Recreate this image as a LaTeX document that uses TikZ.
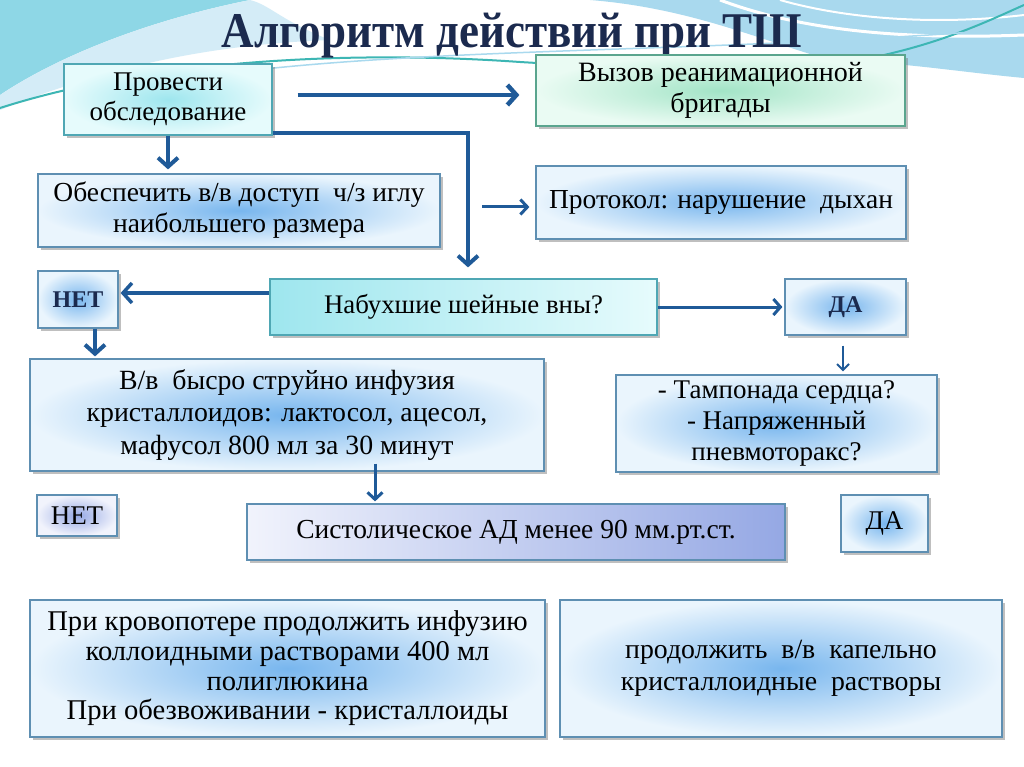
\documentclass[tikz,border=0pt]{standalone}
\usepackage{fontspec}
\setmainfont{Liberation Serif}
\usepackage{graphicx}
\usetikzlibrary{arrows.meta,shadows}
\definecolor{arrowblue}{HTML}{1F5A98}
\definecolor{titlecol}{HTML}{1B2A4E}
\definecolor{bluein}{HTML}{78B6EE}
\definecolor{blueout}{HTML}{EAF5FD}
\definecolor{blueline}{HTML}{5E8FB2}
\definecolor{aquain}{HTML}{9EE6EE}
\definecolor{aquaout}{HTML}{E6FBFC}
\definecolor{aqualine}{HTML}{4FA7B4}
\definecolor{greenin}{HTML}{A2E4C6}
\definecolor{greenout}{HTML}{EAFBF3}
\definecolor{greenline}{HTML}{5AA58E}
\definecolor{lavin}{HTML}{95A8E4}
\definecolor{lavout}{HTML}{F1F3FC}
\definecolor{waveblue}{HTML}{A9D9EE}
\definecolor{wavecyan}{HTML}{8ED7E6}
\definecolor{waveteal}{HTML}{3DB6B4}
\tikzset{
  basebox/.style={draw=blueline, line width=1.2pt, align=center, text=black, inner sep=0pt,
    drop shadow={shadow xshift=2.5pt, shadow yshift=-3pt, fill=black!55, opacity=0.45}},
  bluebox/.style={basebox, inner color=bluein, outer color=blueout},
  aquabox/.style={basebox, draw=aqualine, inner color=aquain, outer color=aquaout},
  aqualin/.style={basebox, draw=aqualine, left color=aquain, right color=aquaout},
  greenbox/.style={basebox, draw=greenline, inner color=greenin, outer color=greenout},
  lavbox/.style={basebox, inner color=lavin, outer color=lavout},
  sysbox/.style={basebox, draw=blueline, left color=lavout, right color=lavin},
  txt/.style={font=\fontsize{27.5}{31}\selectfont},
  narrow/.style={font=\fontsize{27}{30}\selectfont},
  arr/.style={draw=arrowblue, line width=4pt, -{Straight Barb[length=9pt,width=20pt]}},
  arrthin/.style={draw=arrowblue, line width=2pt, -{Straight Barb[length=6pt,width=12pt]}},
}
\begin{document}
\begin{tikzpicture}[x=1pt,y=-1pt]
\useasboundingbox (0,0) rectangle (1024,767);
\fill[white] (0,0) rectangle (1024,767);
% background waves
\fill[waveblue] (590,0) -- (1024,0) -- (1024,78) .. controls (960,72) and (900,62) .. (830,60) .. controls (760,40) and (690,8) .. (590,0) -- cycle;
\fill[wavecyan] (0,0) -- (250,0) .. controls (150,20) and (60,55) .. (0,95) -- cycle;
\fill[waveblue!50] (250,0) .. controls (150,20) and (60,55) .. (0,95) -- (0,110) .. controls (100,70) and (200,45) .. (330,40) .. controls (280,20) and (270,5) .. (250,0) -- cycle;
\draw[white, line width=3pt] (720,0) .. controls (800,30) and (900,40) .. (1024,35);
\draw[white, line width=2pt] (780,0) .. controls (850,20) and (940,25) .. (1024,15);
\draw[waveteal, line width=2pt] (0,108) .. controls (150,60) and (350,50) .. (520,62) .. controls (650,70) and (780,72) .. (860,60) .. controls (940,45) and (990,20) .. (1024,5);
\draw[waveblue, line width=1.5pt] (180,80) .. controls (400,45) and (700,55) .. (1024,28);
% title
\node[text=titlecol, font=\fontsize{50}{56}\selectfont\bfseries] (title) at (512,36) {\scalebox{0.9}[1]{Алгоритм действий при ТШ}};
% boxes
\node[aquabox, narrow, minimum width=208pt, minimum height=71pt] (b1) at (168,99.5) {Провести\\обследование};
\node[greenbox, narrow, font=\fontsize{28}{31}\selectfont, minimum width=369pt, minimum height=71pt] (b2) at (720.5,90.5) {Вызов реанимационной\\бригады};
\node[bluebox, txt, minimum width=402pt, minimum height=73pt] (b3) at (239,210.5) {Обеспечить в/в доступ\ \ ч/з иглу\\наибольшего размера};
\node[bluebox, txt, minimum width=370pt, minimum height=73pt] (b4) at (721,202.5) {Протокол: нарушение\ \ дыхан};
\node[bluebox, font=\fontsize{24}{28}\selectfont\bfseries, text=titlecol, minimum width=80pt, minimum height=57pt] (n1) at (78,299.5) {НЕТ};
\node[aqualin, font=\fontsize{26.8}{31}\selectfont, minimum width=387pt, minimum height=56pt] (q) at (463.5,307) {Набухшие шейные вны?};
\node[bluebox, font=\fontsize{24}{28}\selectfont\bfseries, text=titlecol, minimum width=121pt, minimum height=56pt] (d1) at (845.5,307) {ДА};
\node[bluebox, font=\fontsize{27.8}{32.5}\selectfont, minimum width=514pt, minimum height=112pt] (b8) at (287,415) {В/в\ \ быcро струйно инфузия\\кристаллоидов: лактосол, ацесол,\\мафусол 800 мл за 30 минут};
\node[bluebox, font=\fontsize{27}{31}\selectfont, minimum width=321pt, minimum height=97pt] (b9) at (776.5,423.5) {- Тампонада сердца?\\- Напряженный\\пневмоторакс?};
\node[lavbox, font=\fontsize{27}{30}\selectfont, minimum width=80pt, minimum height=41pt] (n2) at (77,515.5) {НЕТ};
\node[sysbox, txt, minimum width=538pt, minimum height=56pt] (b11) at (516,532) {Систолическое АД менее 90 мм.рт.ст.};
\node[bluebox, font=\fontsize{27}{30}\selectfont, minimum width=87pt, minimum height=57pt] (d2) at (884.5,523.5) {ДА};
\node[bluebox, font=\fontsize{28.6}{29.7}\selectfont, minimum width=515pt, minimum height=137pt] (b13) at (287.5,668.5) {При кровопотере продолжить инфузию\\коллоидными растворами 400 мл\\полиглюкина\\При обезвоживании - кристаллоиды};
\node[bluebox, font=\fontsize{27.8}{32}\selectfont, minimum width=442pt, minimum height=137pt] (b14) at (781,668.5) {продолжить\ \ в/в\ \ капельно\\кристаллоидные\ \ растворы};
% connectors
\coordinate (p4) at (482,207);
\draw[arr, line width=4.5pt] ([xshift=25pt,yshift=4.5pt]b1.east) -- ([xshift=-16pt,yshift=-4.5pt]b2.west);
\draw[arr, shorten >=4pt] (b1.south) -- (b1.south |- b3.north);
\draw[arr, shorten >=11pt] ([yshift=2.5pt]b1.south east) -| ([xshift=4.5pt]q.north);
\draw[arr, line width=3pt, -{Straight Barb[length=7pt,width=15pt]}] (p4) -- ([xshift=-6pt]p4 -| b4.west);
\draw[arr, line width=3.5pt, shorten >=2pt] ([yshift=14pt]q.west) -- ([yshift=14pt]q.west -| n1.east);
\draw[arr, line width=3pt, shorten >=2pt, -{Straight Barb[length=7pt,width=16pt]}] (q.east) -- (d1.west);
\draw[arr, shorten >=2pt] ([xshift=17pt]n1.south) -- ([xshift=17pt]n1.south |- b8.north);
\draw[arrthin, shorten <=10pt, shorten >=3pt] ([xshift=-2.5pt]d1.south) -- ([xshift=-2.5pt]d1.south |- b9.north);
\draw[arr, line width=3pt, shorten >=2pt, -{Straight Barb[length=7pt,width=15pt]}] ([xshift=88pt,yshift=8pt]b8.south) -- ([xshift=88pt]b8.south |- b11.north);
\end{tikzpicture}
\end{document}
